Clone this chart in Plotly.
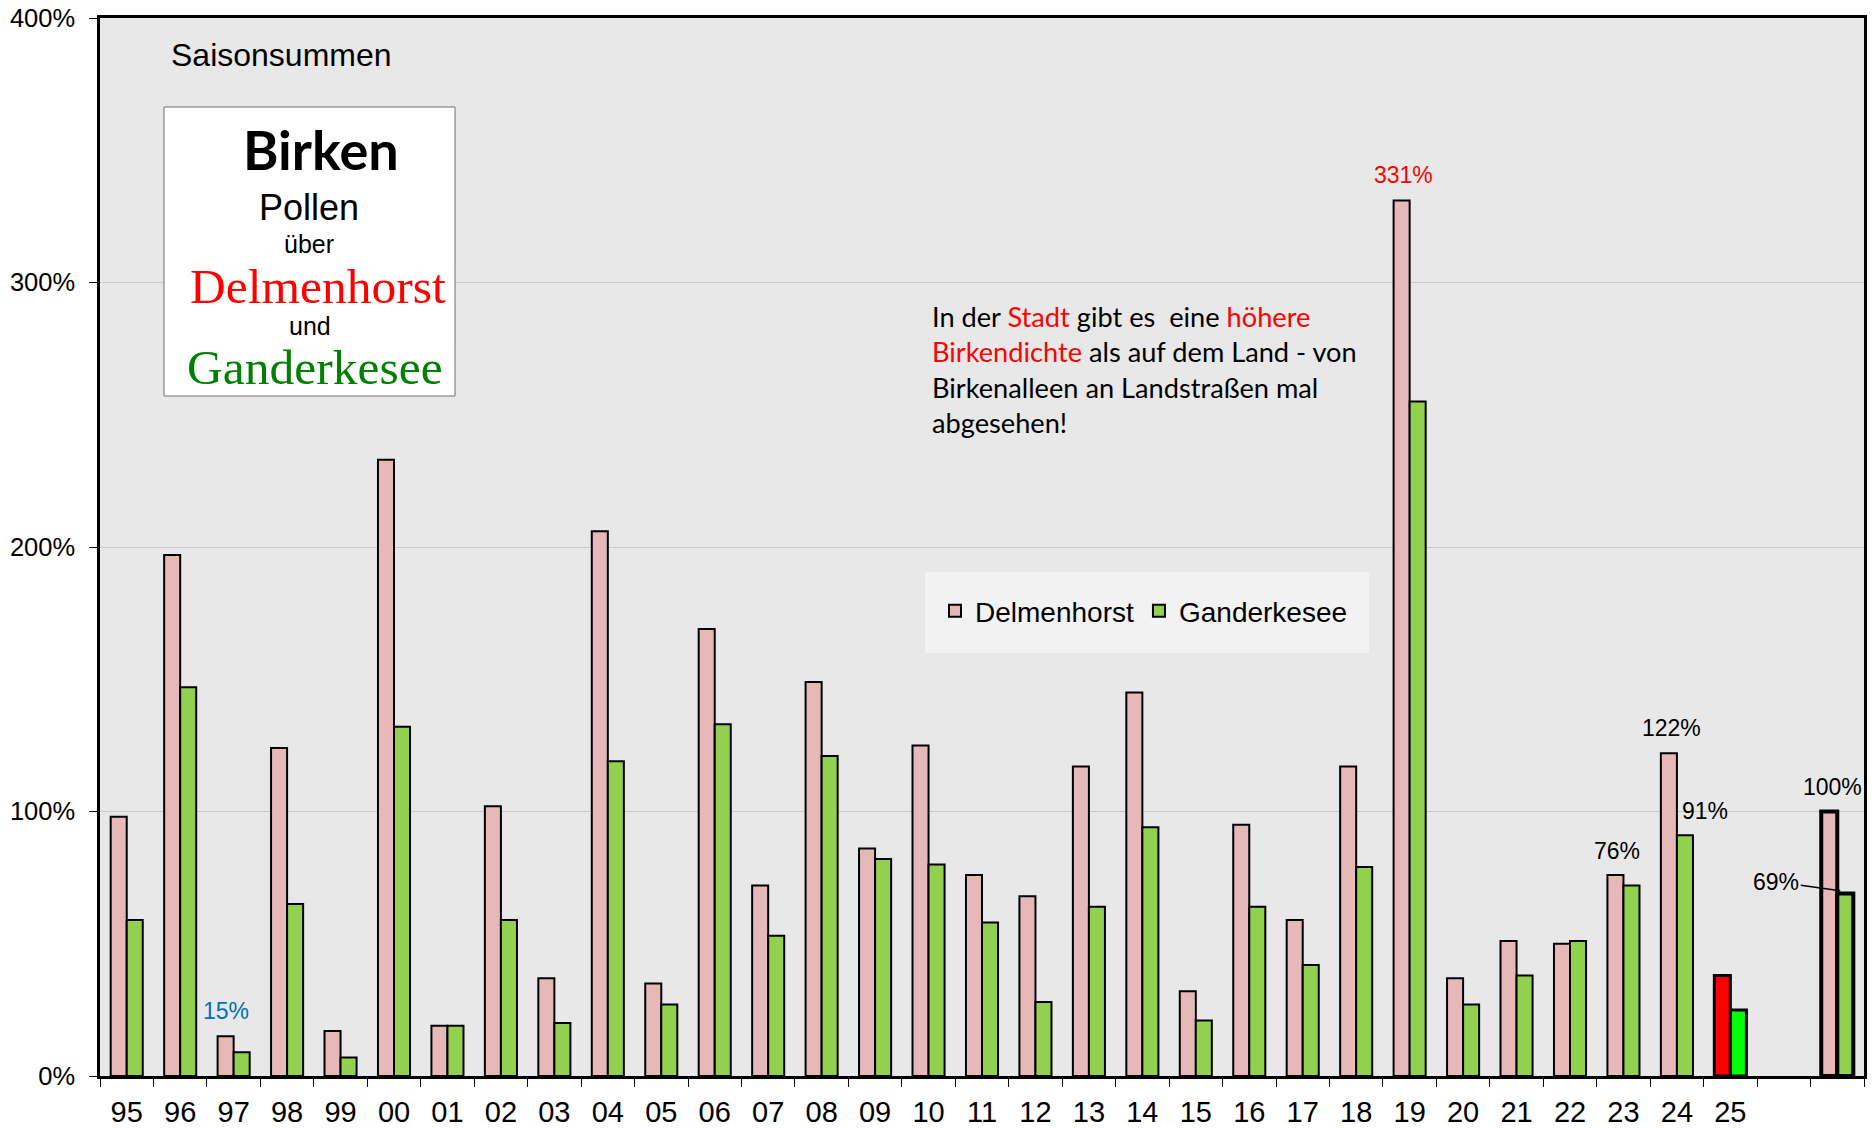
import plotly.graph_objects as go

years = ["95", "96", "97", "98", "99", "00", "01", "02", "03", "04", "05", "06", "07", "08",
         "09", "10", "11", "12", "13", "14", "15", "16", "17", "18", "19", "20", "21", "22",
         "23", "24", "25"]
delmenhorst = [98, 197, 15, 124, 17, 233, 19, 102, 37, 206, 35, 169, 72, 149,
               86, 125, 76, 68, 117, 145, 32, 95, 59, 117, 331, 37, 51, 50,
               76, 122, 38]
ganderkesee = [59, 147, 9, 65, 7, 132, 19, 59, 20, 119, 27, 133, 53, 121,
               82, 80, 58, 28, 64, 94, 21, 64, 42, 79, 255, 27, 38, 51,
               72, 91, 25]
avg_label = "avg"
gap_label = "gap"
avg_delmenhorst = 100
avg_ganderkesee = 69

categories = years + [gap_label, avg_label]
tick_text = years + ["", ""]

W, H = 1875, 1128
L, R, T, B = 100, 11, 18, 52
PW, PH = W - L - R, H - T - B


def px(x):
    return (x - L) / PW


def py(y):
    return (H - B - y) / PH


FONT = "Liberation Sans, Arial, sans-serif"
PINK = "#E6B8B7"
GREEN = "#92D050"

x_vals = years + [avg_label]
d_colors = [PINK] * (len(years) - 1) + ["#FF0000", PINK]
g_colors = [GREEN] * (len(years) - 1) + ["#00FF00", GREEN]
lw = [2] * (len(years) - 1) + [3, 4]

fig = go.Figure()
fig.add_trace(go.Bar(name="Delmenhorst", x=x_vals, y=delmenhorst + [avg_delmenhorst],
                     marker=dict(color=d_colors, line=dict(color="black", width=lw))))
fig.add_trace(go.Bar(name="Ganderkesee", x=x_vals, y=ganderkesee + [avg_ganderkesee],
                     marker=dict(color=g_colors, line=dict(color="black", width=lw))))

fig.update_layout(
    width=W, height=H,
    margin=dict(l=L, r=R, t=T, b=B, autoexpand=False),
    paper_bgcolor="white", plot_bgcolor="#E8E8E8",
    barmode="group", bargap=0.40, bargroupgap=0,
    font=dict(family=FONT, color="black"),
    showlegend=True,
    legend=dict(orientation="h", x=px(935), y=py(611), yanchor="middle", xanchor="left",
                bgcolor="rgba(0,0,0,0)", font=dict(size=28, family=FONT),
                itemwidth=30, tracegroupgap=0),
)
fig.update_xaxes(type="category", categoryorder="array", categoryarray=categories,
                 tickmode="array", tickvals=categories, ticktext=tick_text,
                 tickson="boundaries", ticks="outside", ticklen=8, tickcolor="black",
                 showline=True, linecolor="black", linewidth=3, mirror=True,
                 showgrid=False, tickfont=dict(size=29, family=FONT),
                 ticklabelstandoff=8, automargin=False,
                 range=[-0.5, len(categories) - 0.5])
fig.update_yaxes(range=[0, 400], dtick=100, ticksuffix="%", ticks="outside", ticklen=8,
                 tickcolor="black", showline=True, linecolor="black", linewidth=2.5,
                 mirror=True, showgrid=True, gridcolor="#C8C8C8", gridwidth=1,
                 zeroline=False, tickfont=dict(size=25.5, family=FONT),
                 ticklabelstandoff=9, automargin=False)

shapes = [
    dict(type="rect", xref="paper", yref="paper", x0=px(164), x1=px(455), y0=py(396), y1=py(107),
         fillcolor="white", line=dict(color="#707070", width=1), layer="above"),
    dict(type="rect", xref="paper", yref="paper", x0=px(925), x1=px(1369), y0=py(653), y1=py(572),
         fillcolor="#F2F2F2", line=dict(width=0), layer="below"),
]
fig.update_layout(shapes=shapes)

ann = []


def ptext(text, x, y, size, color="black", family=FONT, xanchor="center", align="center"):
    ann.append(dict(text=text, xref="paper", yref="paper", x=px(x), y=py(y), showarrow=False,
                    xanchor=xanchor, yanchor="middle", align=align,
                    font=dict(size=size, color=color, family=family)))


ptext("Saisonsummen", 169, 55, 32, xanchor="left")
ptext("<b>Birken</b>", 321, 150, 54, family="Comic Sans MS, Lato, sans-serif")
ptext("Pollen", 309, 207, 36)
ptext("über", 309, 244, 25)
ptext("Delmenhorst", 318, 286, 49.5, color="#FF0000", family="Liberation Serif, Times New Roman, serif")
ptext("und", 310, 326, 25)
ptext("Ganderkesee", 315, 367, 49.5, color="#008000", family="Liberation Serif, Times New Roman, serif")

red = "<span style='color:#FF0000'>%s</span>"
body = ("In der " + red % "Stadt" + " gibt es\u00a0 eine " + red % "höhere" + "<br>"
        + red % "Birkendichte" + " als auf dem Land - von<br>"
        + "Birkenalleen an Landstraßen mal<br>abgesehen!")
ann.append(dict(text=body, xref="paper", yref="paper", x=px(930), y=py(298), showarrow=False,
                xanchor="left", yanchor="top", align="left",
                font=dict(size=27.2, family="Lato, Carlito, sans-serif", color="black")))


def dlabel(text, cat, val, xshift, color="black"):
    ann.append(dict(text=text, xref="x", yref="y", x=categories.index(cat), y=val, xshift=xshift,
                    showarrow=False, xanchor="center", yanchor="middle",
                    font=dict(size=23, color=color, family=FONT)))


dlabel("15%", "97", 24.7, -8, color="#0070C0")
dlabel("331%", "19", 340.7, -6, color="#FF0000")
dlabel("76%", "23", 85.1, -6)
dlabel("122%", "24", 131.7, -5)
dlabel("91%", "24", 100.2, 28)
dlabel("100%", avg_label, 109.2, -5)
ann.append(dict(text="69%", xref="x", yref="y", x=categories.index(avg_label), y=70, xshift=3,
                showarrow=True, arrowhead=0, arrowwidth=1.5, arrowcolor="black", ax=-64, ay=-9,
                standoff=0, font=dict(size=23, color="black", family=FONT)))

fig.update_layout(annotations=ann)

fig.write_html("out.html", config={"displayModeBar": False},
               post_script="document.body.style.margin='0';")
